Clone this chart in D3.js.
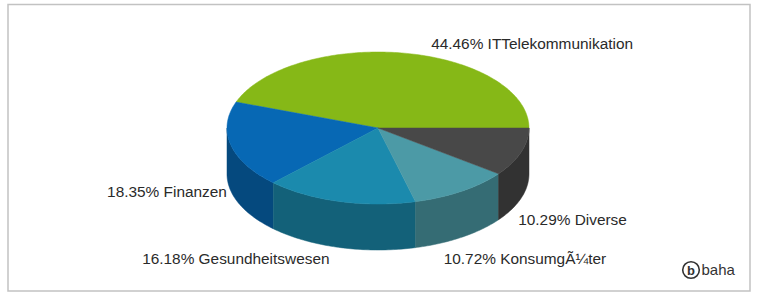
<!DOCTYPE html>
<html><head><meta charset="utf-8">
<script src="https://cdn.jsdelivr.net/npm/d3@7"></script>
<style>body{margin:0;background:#fff}svg{display:block}</style>
</head><body>
<svg id="c" width="757" height="293"></svg>
<script>
const categories = ["ITTelekommunikation", "Finanzen", "Gesundheitswesen", "KonsumgÃ¼ter", "Diverse"];
const values = [44.46, 18.35, 16.18, 10.72, 10.29];

const palette = ["#86b817", "#0768b4", "#1b8aad", "#4c9aa6", "#484848"];
// label nudges relative to slice mid-point on the top ellipse edge
const labelNudge = [[27, -4, "start"], [-4, 52, "end"], [-10, 63, "end"], [-18, 73, "start"], [-3, 73, "start"]];

const svg = d3.select("#c");
svg.append("rect").attr("x", 8).attr("y", 4.5).attr("width", 742).attr("height", 286.5)
  .attr("fill", "#fff").attr("stroke", "#c2c2c2").attr("stroke-width", 1.5);

const cx = 378, cy = 128, rx = 151, ry = 76, depth = 46;
const pt = (t, dy = 0) => [cx + rx * Math.cos(t), cy - ry * Math.sin(t) + dy];

const pie = d3.pie().sort(null).startAngle(0).endAngle(2 * Math.PI);
const arcs = pie(values);
const line = d3.line();

const g = svg.append("g");
// side walls (front half: angles between PI and 2PI)
arcs.forEach((a, i) => {
  const t1 = Math.max(a.startAngle, Math.PI), t2 = Math.min(a.endAngle, 2 * Math.PI);
  if (t2 <= t1) return;
  const n = Math.max(4, Math.ceil((t2 - t1) * 60));
  const ts = d3.range(n + 1).map(k => t1 + (t2 - t1) * k / n);
  const pts = ts.map(t => pt(t)).concat(ts.slice().reverse().map(t => pt(t, depth)));
  g.append("path").attr("d", line(pts) + "Z")
    .attr("fill", d3.color(palette[i]).darker(1)).attr("stroke", d3.color(palette[i]).darker(1)).attr("stroke-width", 0.5);
});
// top faces
arcs.forEach((a, i) => {
  const n = Math.max(4, Math.ceil((a.endAngle - a.startAngle) * 60));
  const ts = d3.range(n + 1).map(k => a.startAngle + (a.endAngle - a.startAngle) * k / n);
  const pts = [[cx, cy]].concat(ts.map(t => pt(t)));
  g.append("path").attr("d", line(pts) + "Z")
    .attr("fill", palette[i]).attr("stroke", palette[i]).attr("stroke-width", 0.5);
});
// labels
arcs.forEach((a, i) => {
  const m = (a.startAngle + a.endAngle) / 2;
  const [x, y] = pt(m);
  const [dx, dy, anchor] = labelNudge[i];
  svg.append("text").attr("x", x + dx).attr("y", y + dy).attr("text-anchor", anchor)
    .attr("font-family", "Liberation Sans, Arial, sans-serif").attr("font-size", 15.4)
    .attr("fill", "#2a2a2a")
    .text(`${a.data.toFixed(2)}% ${categories[i]}`);
});
// logo
const lg = svg.append("g").attr("transform", "translate(691,270)");
lg.append("circle").attr("r", 8.3).attr("fill", "none").attr("stroke", "#333").attr("stroke-width", 1.6);
lg.append("text").attr("y", 4.5).attr("text-anchor", "middle").attr("font-family", "Liberation Sans, Arial, sans-serif")
  .attr("font-size", 13).attr("font-weight", "bold").attr("fill", "#333").text("b");
lg.append("text").attr("x", 10.5).attr("y", 5).attr("font-family", "Liberation Sans, Arial, sans-serif")
  .attr("font-size", 15).attr("fill", "#333").text("baha");
</script>
</body></html>
